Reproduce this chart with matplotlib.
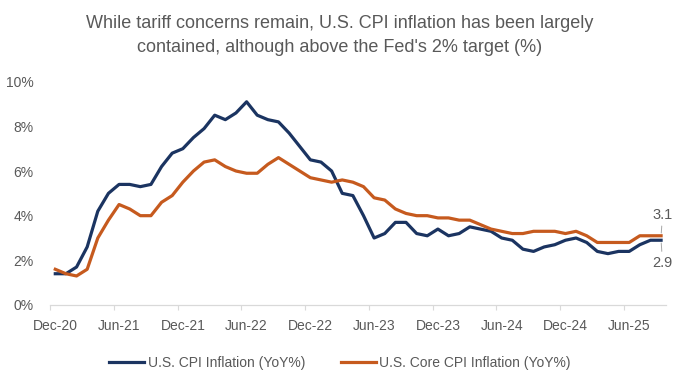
import matplotlib
matplotlib.use("Agg")
import matplotlib.pyplot as plt
import pandas as pd

plt.rcParams['font.family'] = ['Liberation Sans Narrow', 'Liberation Sans', 'DejaVu Sans']

# monthly YoY %, Dec-20 .. Sep-25
months = pd.date_range("2020-12-01", periods=58, freq="MS").strftime("%b-%y").tolist()

cpi = [1.4, 1.4, 1.7, 2.6, 4.2, 5.0, 5.4, 5.4, 5.3, 5.4, 6.2, 6.8,
       7.0, 7.5, 7.9, 8.5, 8.3, 8.6, 9.1, 8.5, 8.3, 8.2, 7.7, 7.1,
       6.5, 6.4, 6.0, 5.0, 4.9, 4.0, 3.0, 3.2, 3.7, 3.7, 3.2, 3.1,
       3.4, 3.1, 3.2, 3.5, 3.4, 3.3, 3.0, 2.9, 2.5, 2.4, 2.6, 2.7,
       2.9, 3.0, 2.8, 2.4, 2.3, 2.4, 2.4, 2.7, 2.9, 2.9]

core = [1.6, 1.4, 1.3, 1.6, 3.0, 3.8, 4.5, 4.3, 4.0, 4.0, 4.6, 4.9,
        5.5, 6.0, 6.4, 6.5, 6.2, 6.0, 5.9, 5.9, 6.3, 6.6, 6.3, 6.0,
        5.7, 5.6, 5.5, 5.6, 5.5, 5.3, 4.8, 4.7, 4.3, 4.1, 4.0, 4.0,
        3.9, 3.9, 3.8, 3.8, 3.6, 3.4, 3.3, 3.2, 3.2, 3.3, 3.3, 3.3,
        3.2, 3.3, 3.1, 2.8, 2.8, 2.8, 2.8, 3.1, 3.1, 3.1]

yticks = [0, 2, 4, 6, 8, 10]

grey = '#595959'
navy = '#1b3461'
orange = '#c65a1e'

fig = plt.figure(figsize=(6.8, 3.85), dpi=100)
ax = fig.add_axes([0.0735, 0.2078, 0.9065, 0.5800])

x = list(range(len(months)))
ax.plot(x, cpi, color=navy, lw=2.3, solid_joinstyle='round', label='U.S. CPI Inflation (YoY%)')
ax.plot(x, core, color=orange, lw=2.3, solid_joinstyle='round', label='U.S. Core CPI Inflation (YoY%)')

ax.set_xlim(-0.5, len(months) - 0.5)
ax.set_ylim(0, 10)

# labels every 6 months, centred in their month slot
ax.set_xticks(x[::6])
ax.set_xticklabels(months[::6])
ax.set_xticks([i - 0.5 for i in x[::6]], minor=True)
ax.tick_params(axis='x', which='major', length=0, pad=10, labelsize=10, labelcolor=grey)
ax.tick_params(axis='x', which='minor', length=3.5, width=0.8, color='#d9d9d9')

ax.set_yticks(yticks)
ax.set_yticklabels([f'{v}%' for v in yticks])
ax.tick_params(axis='y', length=0, pad=12, labelsize=10, labelcolor=grey)

for s in ['top', 'right', 'left']:
    ax.spines[s].set_visible(False)
ax.spines['bottom'].set_color('#d9d9d9')
ax.spines['bottom'].set_linewidth(0.9)

# end labels
ax.annotate(f'{core[-1]:.1f}', xy=(x[-1], core[-1]), xytext=(1, 10), textcoords='offset points',
            ha='center', va='bottom', fontsize=10.5, color=grey,
            arrowprops=dict(arrowstyle='-', color='#a6a6a6', lw=0.7, shrinkA=1, shrinkB=2))
ax.annotate(f'{cpi[-1]:.1f}', xy=(x[-1], cpi[-1]), xytext=(1, -11), textcoords='offset points',
            ha='center', va='top', fontsize=10.5, color=grey,
            arrowprops=dict(arrowstyle='-', color='#a6a6a6', lw=0.7, shrinkA=1, shrinkB=2))

fig.text(0.5, 0.908, "While tariff concerns remain, U.S. CPI inflation has been largely\n"
         "contained, although above the Fed's 2% target (%)",
         ha='center', va='center', fontsize=13, color=grey, linespacing=1.6)

fig.legend(loc='center', bbox_to_anchor=(0.5, 0.058), ncol=2, frameon=False, fontsize=10,
           handlelength=2.5, handletextpad=0.25, columnspacing=2.6, labelcolor=grey)

fig.savefig('out.png', dpi=100, facecolor='white')
